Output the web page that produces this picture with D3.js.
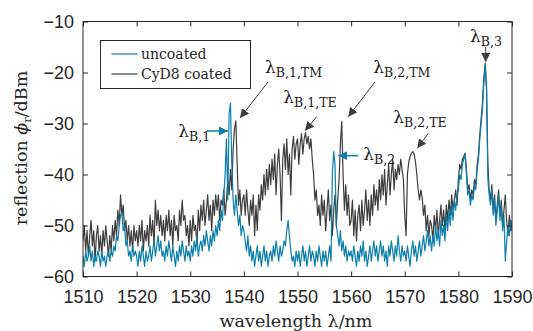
<!DOCTYPE html>
<html>
<head>
<meta charset="utf-8">
<script src="https://cdn.jsdelivr.net/npm/d3@7"></script>
<style>
  html, body { margin: 0; padding: 0; background: #fff; }
  svg { display: block; }
</style>
</head>
<body>
<svg id="chart" width="533" height="331"></svg>
<script>
// ---------------- data ----------------
const wavelengthStart = 1510;   // nm
const wavelengthStep = 0.25;    // nm

const xTicks = [1510, 1520, 1530, 1540, 1550, 1560, 1570, 1580, 1590];
const yTicks = [-60, -50, -40, -30, -20, -10];

const seriesNames = ["uncoated", "CyD8 coated"];

// uncoated reflection (dBm), 1510 ... 1590 nm in 0.25 nm steps
const uncoated = [
  -56,-58,-55,-57,-56,-54,-57,-55,-58,-56,-57,-55,-56,-58,-55,-57,-56,-58,-56,-55,
  -57,-55,-56,-54,-55,-52,-53,-50,-48,-47.5,-51,-50,-54,-53,-56,-55,-57,-54,-56,-55,
  -56,-58,-55,-57,-54,-56,-58,-55,-57,-56,-54,-57,-55,-53,-56,-54,-52,-55,-53,-56,
  -55,-57,-54,-56,-53,-55,-57,-54,-56,-58,-55,-57,-54,-56,-53,-55,-57,-54,-56,-55,
  -57,-54,-56,-53,-55,-52,-56,-54,-53,-55,-52,-54,-51,-53,-55,-52,-54,-51,-53,-50,
  -52,-49,-51,-47,-49,-44,-40,-33,-45,-28,-26,-38,-45,-48,-44,-47,-50,-48,-52,-50,
  -51,-53,-55,-52,-56,-54,-57,-55,-58,-56,-54,-57,-55,-58,-56,-54,-57,-55,-58,-56,
  -55,-57,-54,-56,-53,-55,-57,-54,-56,-55,-53,-54,-51,-49,-52,-55,-57,-56,-58,-55,
  -57,-55,-58,-56,-54,-57,-55,-58,-56,-54,-57,-55,-56,-58,-55,-57,-54,-56,-58,-55,
  -57,-55,-58,-56,-54,-57,-40,-35.5,-38,-50,-52,-54,-51,-55,-53,-56,-54,-57,-55,-56,
  -55,-57,-54,-56,-58,-55,-57,-54,-56,-53,-57,-55,-58,-56,-54,-57,-55,-53,-56,-54,
  -57,-55,-53,-56,-54,-57,-55,-58,-54,-56,-53,-55,-57,-54,-56,-52,-55,-57,-54,-56,
  -55,-57,-54,-56,-58,-55,-53,-56,-54,-57,-55,-53,-56,-54,-52,-55,-53,-51,-54,-52,
  -55,-52,-54,-50,-53,-51,-54,-49,-52,-50,-53,-48,-51,-47,-50,-46,-49,-45,-47,-44,
  -43,-40,-41,-38,-37,-36,-40,-44,-43,-46,-44,-45,-42,-43,-39,-37,-33,-30,-27,-22,
  -18.5,-23,-41,-44,-46,-43,-48,-45,-50,-47,-44,-49,-46,-51,-48,-57,-53,-50,-52,-49,
  -51
];

// CyD8 coated reflection (dBm), same wavelength grid
const coated = [
  -53,-50,-55,-51,-56,-52,-49,-54,-51,-57,-52,-50,-55,-52,-56,-51,-54,-50,-53,-56,
  -52,-55,-50,-53,-49,-52,-47,-50,-44,-48,-46,-51,-49,-53,-50,-54,-51,-55,-50,-53,
  -51,-54,-50,-53,-49,-55,-51,-53,-50,-54,-48,-52,-49,-54,-45,-50,-47,-51,-48,-52,
  -49,-53,-48,-51,-47,-52,-49,-54,-48,-51,-50,-53,-47,-50,-45,-49,-48,-52,-50,-54,
  -49,-53,-48,-51,-50,-54,-47,-51,-46,-49,-45,-50,-47,-44,-49,-46,-51,-45,-48,-44,
  -47,-44,-49,-45,-46,-43,-48,-45,-41,-44,-39,-43,-35,-31,-29.5,-38,-46,-43,-48,-45,
  -44,-48,-43,-47,-50,-45,-48,-44,-52,-46,-51,-44,-47,-42,-45,-40,-44,-39,-43,-38,
  -42,-37,-41,-36,-44,-38,-35,-40,-49,-37,-34,-39,-33,-40,-36,-44,-35,-32.5,-37,-34,
  -33,-38,-34,-32,-36,-33,-31.8,-34,-32.5,-35,-33,-37,-40,-45,-43,-48,-46,-50,-44,-48,
  -45,-51,-47,-43,-49,-46,-52,-47,-44,-50,-45,-41,-34,-29.6,-40,-47,-42,-48,-44,-50,
  -49,-45,-52,-47,-53,-48,-46,-51,-45,-50,-47,-43,-49,-45,-50,-44,-48,-42,-46,-43,
  -47,-41,-45,-40,-44,-39,-46,-42,-38,-44,-40,-37,-43,-39,-41,-38,-40,-37,-39,-41,
  -48,-52,-40,-37.5,-36.5,-35.8,-35.5,-36,-37.5,-40,-43,-45,-43,-44.5,-48,-46,-51,-48,-52,-49,
  -50,-53,-48,-51,-47,-52,-49,-46,-50,-47,-51,-46,-49,-45,-48,-44,-47,-45,-43,-46,
  -41,-38,-39,-37,-36.5,-35.8,-39,-43,-42,-45,-43,-44,-41,-42,-38,-36,-32,-29,-26,-21,
  -18.2,-23,-38,-43,-45,-42,-47,-44,-49,-46,-43,-48,-45,-50,-47,-44,-49,-52,-48,-51,
  -49
];

// annotation labels, arrow tail/head and text anchor in data units
const annoMain = ["λ", "λ", "λ", "λ", "λ", "λ", "λ"];
const annoSub = ["B,1", "B,1,TM", "B,1,TE", "B,2,TM", "B,2,TE", "B,2", "B,3"];
const annoKind = ["uncoated", "coated", "coated", "coated", "coated", "uncoated", "coated"];
const annoTextAt = [[1527.77,-32.6],[1543.94,-20.16],[1547.35,-26.04],[1564.13,-20.16],[1567.86,-29.96],[1562.27,-37.16],[1582.17,-13.96]];
const annoTail = [[1533.12,-31.47],[1544.5,-21.86],[1553.58,-28.67],[1564.45,-21.86],[1574.39,-31.92],[1561.34,-36.31],[1585.1,-15.0]];
const annoHead = [[1537.04,-31.47],[1539.28,-28.92],[1551.4,-31.41],[1559.47,-28.67],[1572.34,-34.86],[1557.61,-36.31],[1585.1,-17.94]];

// ---------------- drawing ----------------
const colors = { uncoated: "#0b7fac", coated: "#3d3d3d" };
const axisColor = "#262626";
const serif = "'DejaVu Serif', serif";
const sans = "'Liberation Sans', 'Open Sans', sans-serif";

const svg = d3.select("#chart");
const pL = 83, pR = 512, pT = 21.5, pB = 276.5;

const x = d3.scaleLinear().domain([1510, 1590]).range([pL, pR]);
const y = d3.scaleLinear().domain([-60, -10]).range([pB, pT]);

const wl = uncoated.map((_, i) => wavelengthStart + i * wavelengthStep);

const defs = svg.append("defs");
defs.append("clipPath").attr("id", "clip")
  .append("rect").attr("x", pL).attr("y", pT).attr("width", pR - pL).attr("height", pB - pT);

const line = d3.line().x(d => x(d[0])).y(d => y(d[1]));

const plot = svg.append("g").attr("clip-path", "url(#clip)");
plot.append("path")
  .datum(coated.map((v, i) => [wl[i], v]))
  .attr("d", line).attr("fill", "none")
  .attr("stroke", colors.coated).attr("stroke-width", 1.2).attr("stroke-linejoin", "round");
plot.append("path")
  .datum(uncoated.map((v, i) => [wl[i], v]))
  .attr("d", line).attr("fill", "none")
  .attr("stroke", colors.uncoated).attr("stroke-width", 1.2).attr("stroke-linejoin", "round");

// axes (MATLAB style: inward ticks, mirrored)
const tickLen = 5;
const axB = d3.axisBottom(x).tickValues(xTicks).tickSizeInner(-tickLen).tickSizeOuter(0).tickPadding(13.5).tickFormat(d3.format("d"));
const axT = d3.axisTop(x).tickValues(xTicks).tickSizeInner(-tickLen).tickSizeOuter(0).tickFormat("");
const axL = d3.axisLeft(y).tickValues(yTicks).tickSizeInner(-tickLen).tickSizeOuter(0).tickPadding(9).tickFormat(d3.format("d"));
const axR = d3.axisRight(y).tickValues(yTicks).tickSizeInner(-tickLen).tickSizeOuter(0).tickFormat("");

function style(g) {
  g.select(".domain").remove();
  g.selectAll("line").attr("stroke", axisColor);
  g.selectAll("text").attr("fill", axisColor).attr("font-family", sans).attr("font-size", 18);
}
svg.append("g").attr("transform", `translate(0,${pB})`).call(axB).call(style);
svg.append("g").attr("transform", `translate(0,${pT})`).call(axT).call(style);
svg.append("g").attr("transform", `translate(${pL},0)`).call(axL).call(style);
svg.append("g").attr("transform", `translate(${pR},0)`).call(axR).call(style);

svg.append("rect").attr("x", pL).attr("y", pT).attr("width", pR - pL).attr("height", pB - pT)
  .attr("fill", "none").attr("stroke", axisColor).attr("stroke-width", 1);

// axis labels
const xl = svg.append("text").attr("x", 296).attr("y", 326.5).attr("text-anchor", "middle")
  .attr("font-family", serif).attr("font-size", 17.5).attr("fill", axisColor);
xl.append("tspan").text("wavelength ");
xl.append("tspan").text("λ");
xl.append("tspan").text("/nm");

const yl = svg.append("text").attr("transform", "translate(27,148) rotate(-90)").attr("text-anchor", "middle")
  .attr("font-family", serif).attr("font-size", 17.5).attr("fill", axisColor);
yl.append("tspan").text("reflection ");
yl.append("tspan").attr("font-style", "italic").text("ϕ");
yl.append("tspan").attr("font-size", 11.5).attr("dy", 4).text("r");
yl.append("tspan").attr("dy", -4).text("/dBm");

// legend
const lg = svg.append("g");
lg.append("rect").attr("x", 100.5).attr("y", 40.5).attr("width", 150).attr("height", 48)
  .attr("fill", "#fff").attr("stroke", axisColor).attr("stroke-width", 1);
seriesNames.forEach((name, i) => {
  const yy = 54 + i * 20;
  lg.append("line").attr("x1", 111.5).attr("x2", 137.5).attr("y1", yy).attr("y2", yy)
    .attr("stroke", i === 0 ? colors.uncoated : colors.coated).attr("stroke-width", 1.2);
  lg.append("text").attr("x", 141).attr("y", yy + 5).attr("font-family", serif).attr("font-size", 14)
    .attr("fill", axisColor).text(name);
});

// annotations
["uncoated", "coated"].forEach(k => {
  defs.append("marker").attr("id", "arrow-" + k).attr("viewBox", "0 0 10 10")
    .attr("refX", 10).attr("refY", 5).attr("markerWidth", 9).attr("markerHeight", 9)
    .attr("markerUnits", "userSpaceOnUse").attr("orient", "auto")
    .append("path").attr("d", "M0,0 L10,5 L0,10 z").attr("fill", colors[k]);
});
const ann = svg.append("g");
annoSub.forEach((sub, i) => {
  const k = annoKind[i];
  ann.append("line")
    .attr("x1", x(annoTail[i][0])).attr("y1", y(annoTail[i][1]))
    .attr("x2", x(annoHead[i][0])).attr("y2", y(annoHead[i][1]))
    .attr("stroke", colors[k]).attr("stroke-width", k === "uncoated" ? 1.5 : 1)
    .attr("marker-end", `url(#arrow-${k})`);
  const t = ann.append("text").attr("x", x(annoTextAt[i][0])).attr("y", y(annoTextAt[i][1]))
    .attr("font-family", serif).attr("fill", "#1a1a1a");
  t.append("tspan").attr("font-size", 17).text(annoMain[i]);
  t.append("tspan").attr("font-size", 12.5).attr("dy", 4).text(sub);
});
</script>
</body>
</html>
